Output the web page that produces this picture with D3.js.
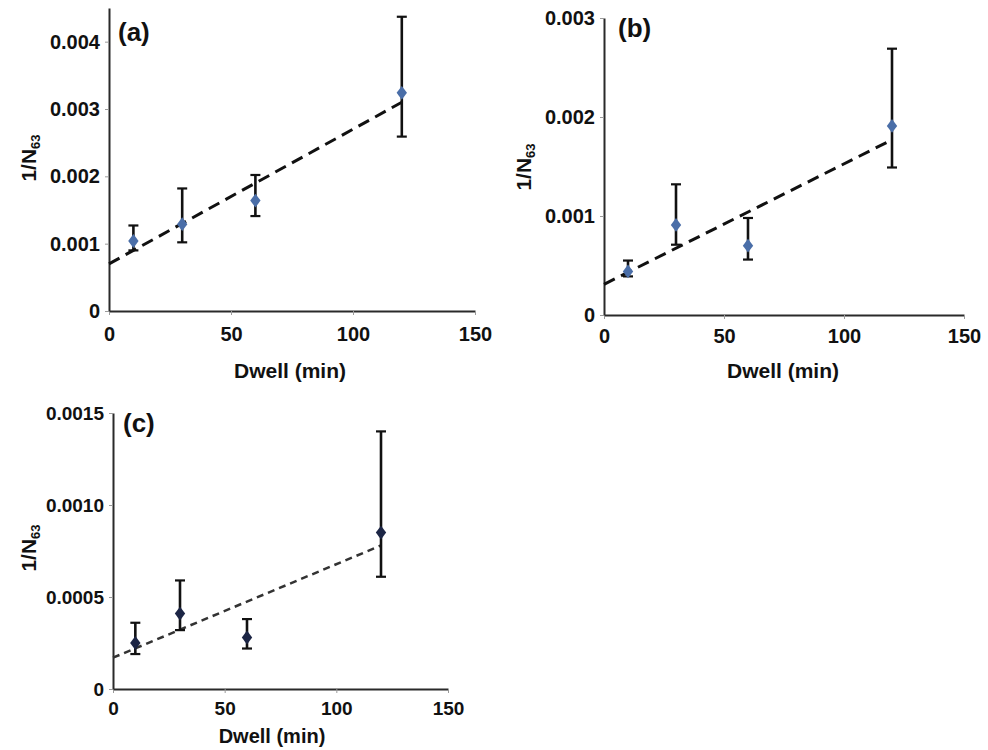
<!DOCTYPE html>
<html>
<head>
<meta charset="utf-8">
<script src="https://cdn.jsdelivr.net/npm/d3@7"></script>
<style>
  body { margin: 0; background: #fff; }
  svg { font-family: "Liberation Sans", Arial, sans-serif; }
</style>
</head>
<body>
<div class="chart"></div>
<script>
// dwell times (min), shared by all three panels
var dwell = [10, 30, 60, 120];
var fitX = [0, 120];

// panel (a)
var meanA = [0.00104, 0.00129, 0.00164, 0.00324];
var upA = [0.00127, 0.00182, 0.00202, 0.00437];
var lowA = [0.00090, 0.00102, 0.00141, 0.00259];
var fitA = [0.00070, 0.00310];
var yTicksA = [0, 0.001, 0.002, 0.003, 0.004];
var yLabelsA = ["0", "0.001", "0.002", "0.003", "0.004"];

// panel (b)
var meanB = [0.00044, 0.00091, 0.00070, 0.00191];
var upB = [0.00055, 0.00132, 0.00098, 0.00269];
var lowB = [0.00039, 0.00071, 0.00056, 0.00149];
var fitB = [0.00031, 0.00177];
var yTicksB = [0, 0.001, 0.002, 0.003];
var yLabelsB = ["0", "0.001", "0.002", "0.003"];

// panel (c)
var meanC = [0.00025, 0.00041, 0.00028, 0.00085];
var upC = [0.00036, 0.00059, 0.00038, 0.00140];
var lowC = [0.00019, 0.00032, 0.00022, 0.00061];
var fitC = [0.00017, 0.00078];
var yTicksC = [0, 0.0005, 0.0010, 0.0015];
var yLabelsC = ["0", "0.0005", "0.0010", "0.0015"];

var xTicks = [0, 50, 100, 150];
var xLabels = ["0", "50", "100", "150"];

var svg = d3.select(".chart")
    .append("svg")
    .attr("width", 988)
    .attr("height", 750);

// draw one panel
function drawPanel(p) {
  var x = d3.scaleLinear().domain([0, 150]).range([p.left, p.right]);
  var y = d3.scaleLinear().domain([0, p.yMax]).range([p.bottom, p.top]);

  var g = svg.append("g");

  // axes
  var xAxis = g.append("g")
      .attr("transform", `translate(0, ${p.bottom})`)
      .call(d3.axisBottom(x).tickValues(xTicks)
        .tickFormat((d, i) => xLabels[i]).tickSize(4).tickSizeOuter(0).tickPadding(p.xPad));
  var yAxis = g.append("g")
      .attr("transform", `translate(${p.left}, 0)`)
      .call(d3.axisLeft(y).tickValues(p.yTicks)
        .tickFormat((d, i) => p.yLabels[i]).tickSize(4).tickSizeOuter(0).tickPadding(5));

  [xAxis, yAxis].forEach(function(a) {
    a.select(".domain").attr("stroke", "#2a2a2a").attr("stroke-width", 2);
    a.selectAll(".tick line").attr("stroke", "#9a9a9a").attr("stroke-width", 1);
    a.selectAll(".tick text")
      .attr("fill", "#111")
      .style("font-size", p.tickFont + "px")
      .style("font-weight", "bold");
  });

  // fitted trend line
  var line = d3.line().x(d => x(d[0])).y(d => y(d[1]));
  g.append("path")
      .datum(fitX.map((d, i) => [d, p.fit[i]]))
      .attr("d", line)
      .attr("fill", "none")
      .attr("stroke", p.fitColor)
      .attr("stroke-width", p.fitWidth)
      .attr("stroke-dasharray", p.dash);

  // error bars
  var bars = g.selectAll(".err")
      .data(dwell.map((d, i) => ({x: d, m: p.mean[i], hi: p.up[i], lo: p.low[i]})))
      .enter()
      .append("g")
      .attr("class", "err");

  bars.append("line")
      .attr("x1", d => x(d.x)).attr("x2", d => x(d.x))
      .attr("y1", d => y(d.hi)).attr("y2", d => y(d.lo))
      .attr("stroke", "#111").attr("stroke-width", 2.6);
  bars.append("line")
      .attr("x1", d => x(d.x) - 5).attr("x2", d => x(d.x) + 5)
      .attr("y1", d => y(d.hi)).attr("y2", d => y(d.hi))
      .attr("stroke", "#111").attr("stroke-width", 2.2);
  bars.append("line")
      .attr("x1", d => x(d.x) - 5).attr("x2", d => x(d.x) + 5)
      .attr("y1", d => y(d.lo)).attr("y2", d => y(d.lo))
      .attr("stroke", "#111").attr("stroke-width", 2.2);

  // diamond markers
  bars.append("path")
      .attr("d", d3.symbol().type(d3.symbolDiamond).size(55))
      .attr("transform", d => `translate(${x(d.x)}, ${y(d.m)}) scale(1.3, 1)`)
      .attr("fill", p.markColor);

  // panel letter
  g.append("text")
      .attr("x", p.tagX).attr("y", p.tagY)
      .style("font-size", "26px").style("font-weight", "bold")
      .attr("fill", "#111")
      .text(p.tag);

  // x-axis title
  g.append("text")
      .attr("x", p.xTitleX).attr("y", p.xTitleY)
      .attr("text-anchor", "middle")
      .style("font-size", p.titleFont + "px").style("font-weight", "bold")
      .attr("fill", "#111")
      .text("Dwell (min)");

  // y-axis title with subscript
  var yt = g.append("text")
      .attr("transform", `translate(${p.yTitleX}, ${p.yTitleY}) rotate(-90)`)
      .attr("text-anchor", "middle")
      .style("font-size", "21px").style("font-weight", "bold")
      .attr("fill", "#111");
  yt.append("tspan").text("1/N");
  yt.append("tspan").attr("dy", 4).style("font-size", "13px").text("63");
}

drawPanel({
  left: 109, right: 475, top: 8, bottom: 311, yMax: 0.0045,
  yTicks: yTicksA, yLabels: yLabelsA,
  mean: meanA, up: upA, low: lowA, fit: fitA,
  fitColor: "#111", fitWidth: 3, dash: "12,7", markColor: "#4a6ea8",
  tickFont: 20, titleFont: 21, xPad: 12,
  tag: "(a)", tagX: 118, tagY: 41,
  xTitleX: 290, xTitleY: 378, yTitleX: 36, yTitleY: 158
});

drawPanel({
  left: 604, right: 964, top: 18, bottom: 315, yMax: 0.003,
  yTicks: yTicksB, yLabels: yLabelsB,
  mean: meanB, up: upB, low: lowB, fit: fitB,
  fitColor: "#111", fitWidth: 3, dash: "12,7", markColor: "#4a6ea8",
  tickFont: 20, titleFont: 21, xPad: 10,
  tag: "(b)", tagX: 618, tagY: 37,
  xTitleX: 783, xTitleY: 378, yTitleX: 531, yTitleY: 167
});

drawPanel({
  left: 113, right: 448, top: 413, bottom: 689, yMax: 0.0015,
  yTicks: yTicksC, yLabels: yLabelsC,
  mean: meanC, up: upC, low: lowC, fit: fitC,
  fitColor: "#333", fitWidth: 2.5, dash: "7,5", markColor: "#1c2545",
  tickFont: 19, titleFont: 20, xPad: 9,
  tag: "(c)", tagX: 123, tagY: 432,
  xTitleX: 272, xTitleY: 743, yTitleX: 36, yTitleY: 548
});
</script>
</body>
</html>
